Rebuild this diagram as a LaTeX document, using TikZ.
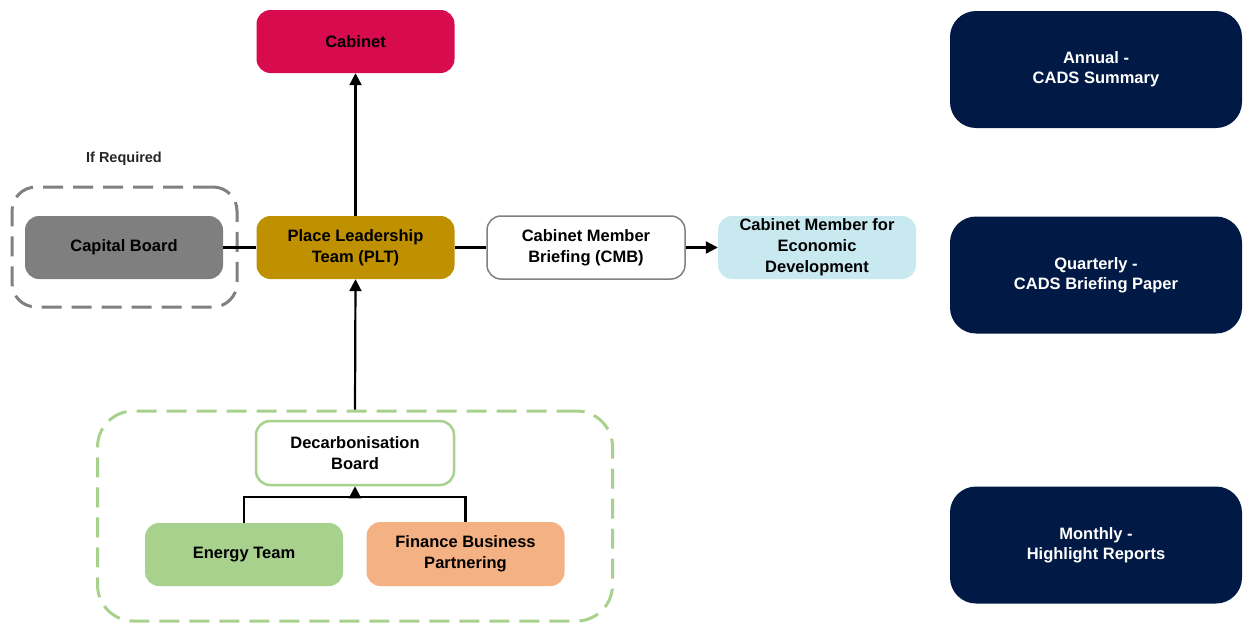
\documentclass[tikz,border=0pt]{standalone}
\usepackage{fontspec}
\setmainfont{Liberation Sans}
\usetikzlibrary{arrows.meta}
\definecolor{cabred}{HTML}{D80B4F}
\definecolor{navy}{HTML}{001A45}
\definecolor{capgray}{HTML}{7F7F7F}
\definecolor{pltgold}{HTML}{BF9000}
\definecolor{lblue}{HTML}{C9E9F0}
\definecolor{lgreen}{HTML}{A9D18E}
\definecolor{lorange}{HTML}{F4B183}
\definecolor{grpgray}{HTML}{808080}
\tikzset{
  box/.style={rectangle, rounded corners=14pt, minimum width=198pt, minimum height=63pt, inner sep=2pt, align=center,
    font=\bfseries\fontsize{16.5}{21}\selectfont, text=black},
  navybox/.style={rectangle, rounded corners=26pt, fill=navy, minimum width=292pt, minimum height=117pt, align=center,
    font=\bfseries\fontsize{16.5}{20}\selectfont, text=white},
  conn/.style={line width=2.2pt, draw=black},
  arr/.style={conn, -{Triangle[width=12pt,length=12pt]}},
  grp/.style={rectangle, line width=3pt, dash pattern=on 20pt off 10pt, fill=none},
}
\begin{document}
\begin{tikzpicture}[x=1pt,y=-1pt]
\useasboundingbox (0,0) rectangle (1246,624);
% groups
\node[grp, draw=grpgray, rounded corners=24pt, minimum width=225pt, minimum height=120pt] (capgrp) at (124.5,247) {};
\node[grp, draw=lgreen, rounded corners=36pt, minimum width=515pt, minimum height=210pt] (greengrp) at (355,516) {};
% nodes
\node[box, fill=cabred] (cabinet) at (355.5,41.5) {Cabinet};
\node[box, fill=capgray] (capital) at (124,247.5) {Capital Board};
\node[box, fill=pltgold] (plt) at (355.5,247.5) {Place Leadership\\Team (PLT)};
\node[box, fill=white, draw=grpgray, line width=1.5pt] (cmb) at (586,247.5) {Cabinet Member\\Briefing (CMB)};
\node[box, fill=lblue] (cmed) at (817,247.5) {Cabinet Member for\\Economic\\Development};
\node[box, fill=white, draw=lgreen, line width=2.5pt, minimum height=64pt] (decarb) at (355,453) {Decarbonisation\\Board};
\node[box, fill=lgreen] (energy) at (244,554.5) {Energy Team};
\node[box, fill=lorange, minimum height=64pt] (finance) at (465.5,554) {Finance Business\\Partnering};
\node[navybox] (annual) at (1096,69.5) {Annual -\\CADS Summary};
\node[navybox] (quarterly) at (1096,275) {Quarterly -\\CADS Briefing Paper};
\node[navybox] (monthly) at (1096,545) {Monthly -\\Highlight Reports};
\node[font=\bfseries\fontsize{14.5}{17}\selectfont, text=black!85] (ifreq) at (124,159) {If Required};
% connectors
\draw[arr] (plt.north) -- (cabinet.south);
\draw[arr] (greengrp.north) -- (plt.south);
\draw[conn] (capital.east) -- (plt.west);
\draw[conn] (plt.east) -- (cmb.west);
\draw[arr] (cmb.east) -- (cmed.west);
\coordinate (j) at (355,497);
\draw[conn] (energy.north) |- (j) -| (finance.north);
\draw[arr] (j) -- (decarb.south);
\end{tikzpicture}
\end{document}
